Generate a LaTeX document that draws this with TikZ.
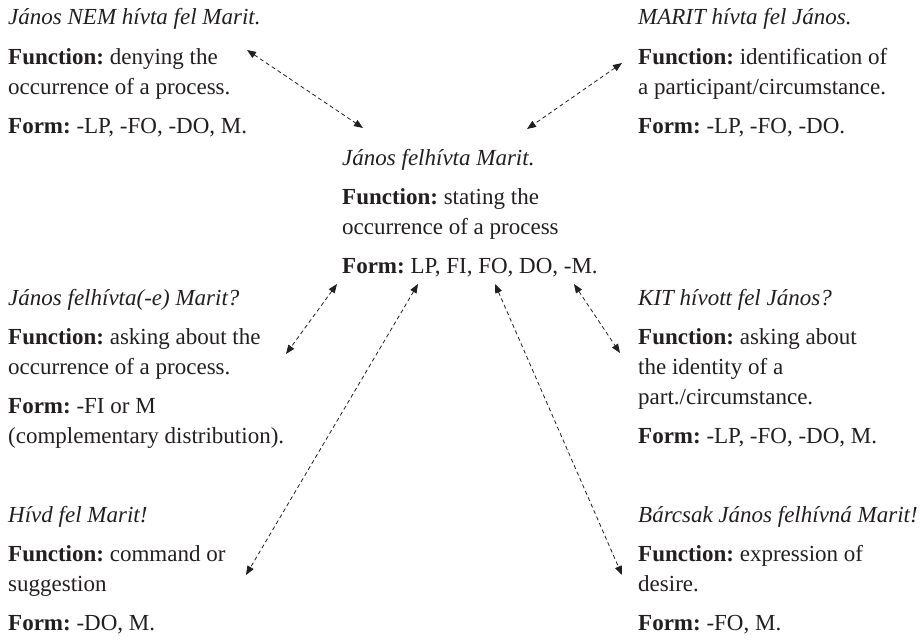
\documentclass[tikz,border=0pt]{standalone}
\usepackage{fontspec}
\setmainfont{Liberation Serif}
\usetikzlibrary{arrows.meta}
\definecolor{ink}{HTML}{231F20}
\frenchspacing
\begin{document}
\begin{tikzpicture}[x=1pt,y=-1pt,
  txt/.style={anchor=base west,inner sep=0pt,text=ink,font=\fontsize{23}{28}\selectfont},
  link/.style={draw=ink,line width=0.8pt,dash pattern=on 4pt off 3pt,
    {Triangle[length=9pt,width=7pt]}-{Triangle[length=9pt,width=7pt]}}]
\useasboundingbox (0,0) rectangle (920,642);
% top-left
\node[txt] (a1) at (8,25) {\textit{János NEM hívta fel Marit.}};
\node[txt] (a2) at (8,64) {\textbf{Function:} denying the};
\node[txt] (a3) at (8,94) {occurrence of a process.};
\node[txt] (a4) at (8,133) {\textbf{Form:} -LP, -FO, -DO, M.};
% top-right
\node[txt] (b1) at (638,25) {\textit{MARIT hívta fel János.}};
\node[txt] (b2) at (638,64) {\textbf{Function:} identification of};
\node[txt] (b3) at (638,94) {a participant/circumstance.};
\node[txt] (b4) at (638,133) {\textbf{Form:} -LP, -FO, -DO.};
% center
\node[txt] (c1) at (342,165) {\textit{János felhívta Marit.}};
\node[txt] (c2) at (342,204) {\textbf{Function:} stating the};
\node[txt] (c3) at (342,234) {occurrence of a process};
\node[txt] (c4) at (342,273) {\textbf{Form:} LP, FI, FO, DO, -M.};
% mid-left
\node[txt] (d1) at (8,305) {\textit{János felhívta(-e) Marit?}};
\node[txt] (d2) at (8,344) {\textbf{Function:} asking about the};
\node[txt] (d3) at (8,374) {occurrence of a process.};
\node[txt] (d4) at (8,413) {\textbf{Form:} -FI or M};
\node[txt] (d5) at (8,443) {(complementary distribution).};
% mid-right
\node[txt] (e1) at (638,305) {\textit{KIT hívott fel János?}};
\node[txt] (e2) at (638,344) {\textbf{Function:} asking about};
\node[txt] (e3) at (638,374) {the identity of a};
\node[txt] (e4) at (638,404) {part./circumstance.};
\node[txt] (e5) at (638,443) {\textbf{Form:} -LP, -FO, -DO, M.};
% bottom-left
\node[txt] (f1) at (8,522) {\textit{Hívd fel Marit!}};
\node[txt] (f2) at (8,561) {\textbf{Function:} command or};
\node[txt] (f3) at (8,591) {suggestion};
\node[txt] (f4) at (8,630) {\textbf{Form:} -DO, M.};
% bottom-right
\node[txt] (g1) at (638,522) {\textit{Bárcsak János felhívná Marit!}};
\node[txt] (g2) at (638,561) {\textbf{Function:} expression of};
\node[txt] (g3) at (638,591) {desire.};
\node[txt] (g4) at (638,630) {\textbf{Form:} -FO, M.};
% connector ends
\coordinate (pa) at (247,50);
\coordinate (pb) at (622,63);
\coordinate (pc1) at (363,128);
\coordinate (pc2) at (527,129);
\coordinate (q1) at (337,284);
\coordinate (q2) at (418,284);
\coordinate (q3) at (495,284);
\coordinate (q4) at (574,284);
\coordinate (pd) at (286,354);
\coordinate (pf) at (246,575);
\coordinate (pg) at (622,575);
\coordinate (pe) at (620,353);
\draw[link] (pa) -- (pc1);
\draw[link] (pb) -- (pc2);
\draw[link] (q1) -- (pd);
\draw[link] (q2) -- (pf);
\draw[link] (q3) -- (pg);
\draw[link] (q4) -- (pe);
\end{tikzpicture}
\end{document}
